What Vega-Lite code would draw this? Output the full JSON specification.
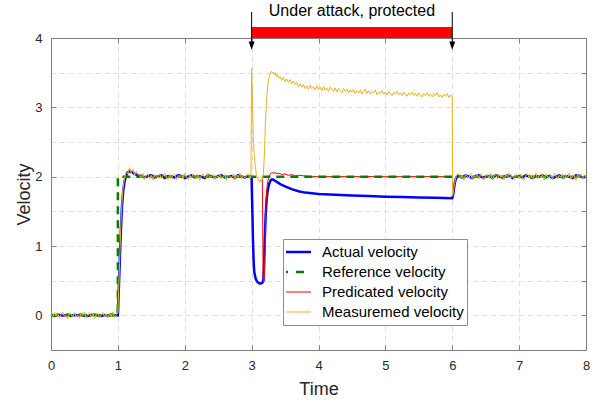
{
  "$schema": "https://vega.github.io/schema/vega-lite/v6.json",
  "width": 535,
  "height": 312,
  "autosize": {"type": "none"},
  "padding": {"left": 51, "top": 38, "right": 19, "bottom": 52},
  "background": "white",
  "config": {"font": "Liberation Sans", "view": {"stroke": null}},
  "datasets": {
    "act": [
      {"t":0,"v":0.005},{"t":0.05,"v":-0.01},{"t":0.1,"v":0.01},{"t":0.15,"v":0},{"t":0.2,"v":-0.005},{"t":0.25,"v":0.01},{"t":0.3,"v":-0.01},{"t":0.35,"v":0.005},{"t":0.4,"v":0},{"t":0.45,"v":0.01},
      {"t":0.5,"v":-0.005},{"t":0.55,"v":-0.01},{"t":0.6,"v":0.005},{"t":0.65,"v":0.01},{"t":0.7,"v":0},{"t":0.75,"v":-0.01},{"t":0.8,"v":0.005},{"t":0.85,"v":-0.005},{"t":0.9,"v":0.01},{"t":0.95,"v":0},
      {"t":1.0,"v":0},{"t":1.02,"v":0.55},{"t":1.04,"v":1.1},{"t":1.06,"v":1.55},{"t":1.08,"v":1.8},{"t":1.1,"v":1.93},{"t":1.12,"v":2.01},{"t":1.14,"v":2.05},{"t":1.17,"v":2.08},{"t":1.2,"v":2.07},{"t":1.25,"v":2.04},{"t":1.3,"v":2.02},{"t":1.35,"v":2.01},
      {"t":1.4,"v":1.99},{"t":1.45,"v":2.01},{"t":1.5,"v":2.02},{"t":1.55,"v":1.99},{"t":1.6,"v":2.0},{"t":1.65,"v":2.02},{"t":1.7,"v":1.98},{"t":1.75,"v":2.01},{"t":1.8,"v":2.0},{"t":1.85,"v":1.99},
      {"t":1.9,"v":2.02},{"t":1.95,"v":2.01},{"t":2.0,"v":1.98},{"t":2.05,"v":2.0},{"t":2.1,"v":2.02},{"t":2.15,"v":1.99},{"t":2.2,"v":2.01},{"t":2.25,"v":2.0},{"t":2.3,"v":1.98},{"t":2.35,"v":2.02},
      {"t":2.4,"v":2.0},{"t":2.45,"v":1.99},{"t":2.5,"v":2.01},{"t":2.55,"v":2.02},{"t":2.6,"v":1.99},{"t":2.65,"v":2.0},{"t":2.7,"v":2.01},{"t":2.75,"v":1.98},{"t":2.8,"v":2.02},{"t":2.85,"v":2.0},{"t":2.9,"v":1.99},{"t":2.95,"v":2.01},
      {"t":2.99,"v":2.0},{"t":3.0,"v":1.97},{"t":3.01,"v":1.55},{"t":3.02,"v":1.1},{"t":3.03,"v":0.78},{"t":3.04,"v":0.62},{"t":3.06,"v":0.53},{"t":3.08,"v":0.49},{"t":3.1,"v":0.47},{"t":3.12,"v":0.46},{"t":3.14,"v":0.46},{"t":3.16,"v":0.47},
      {"t":3.175,"v":0.5},{"t":3.185,"v":0.7},{"t":3.195,"v":1.05},{"t":3.21,"v":1.45},{"t":3.225,"v":1.68},{"t":3.24,"v":1.8},{"t":3.26,"v":1.89},{"t":3.28,"v":1.94},{"t":3.3,"v":1.96},{"t":3.32,"v":1.96},{"t":3.35,"v":1.94},
      {"t":3.4,"v":1.91},{"t":3.45,"v":1.88},{"t":3.5,"v":1.86},{"t":3.6,"v":1.82},{"t":3.7,"v":1.79},{"t":3.8,"v":1.77},{"t":3.9,"v":1.76},{"t":4.0,"v":1.75},{"t":4.25,"v":1.74},{"t":4.5,"v":1.73},{"t":4.75,"v":1.72},
      {"t":5.0,"v":1.71},{"t":5.25,"v":1.705},{"t":5.5,"v":1.7},{"t":5.75,"v":1.695},{"t":6.0,"v":1.69},{"t":6.01,"v":1.72},{"t":6.025,"v":1.82},{"t":6.04,"v":1.92},{"t":6.055,"v":1.97},{"t":6.07,"v":2.0},
      {"t":6.1,"v":2.01},{"t":6.15,"v":1.99},{"t":6.2,"v":2.02},{"t":6.25,"v":2.0},{"t":6.3,"v":1.98},{"t":6.35,"v":2.01},{"t":6.4,"v":2.02},{"t":6.45,"v":1.99},{"t":6.5,"v":2.0},{"t":6.55,"v":2.01},
      {"t":6.6,"v":1.98},{"t":6.65,"v":2.02},{"t":6.7,"v":2.0},{"t":6.75,"v":1.99},{"t":6.8,"v":2.01},{"t":6.85,"v":2.02},{"t":6.9,"v":1.98},{"t":6.95,"v":2.0},{"t":7.0,"v":2.01},{"t":7.05,"v":1.99},
      {"t":7.1,"v":2.02},{"t":7.15,"v":2.0},{"t":7.2,"v":1.98},{"t":7.25,"v":2.01},{"t":7.3,"v":2.0},{"t":7.35,"v":2.02},{"t":7.4,"v":1.99},{"t":7.45,"v":2.01},{"t":7.5,"v":1.98},{"t":7.55,"v":2.0},
      {"t":7.6,"v":2.02},{"t":7.65,"v":1.99},{"t":7.7,"v":2.01},{"t":7.75,"v":2.0},{"t":7.8,"v":1.98},{"t":7.85,"v":2.02},{"t":7.9,"v":2.01},{"t":7.95,"v":1.99},{"t":8.0,"v":2.0}
    ],
    "ref": [
      {"t":0,"v":0},{"t":1,"v":0},{"t":1,"v":2},{"t":8,"v":2}
    ],
    "pred": [
      {"t":3.16,"v":1.98},{"t":3.172,"v":0.6},{"t":3.18,"v":0.48},{"t":3.19,"v":0.52},{"t":3.2,"v":0.95},{"t":3.21,"v":1.5},{"t":3.225,"v":1.8},{"t":3.24,"v":1.93},{"t":3.26,"v":2.0},{"t":3.28,"v":2.04},
      {"t":3.3,"v":2.06},{"t":3.32,"v":2.05},{"t":3.35,"v":2.06},{"t":3.38,"v":2.04},{"t":3.41,"v":2.05},{"t":3.45,"v":2.03},{"t":3.5,"v":2.04},{"t":3.55,"v":2.02},{"t":3.6,"v":2.03},{"t":3.65,"v":2.01},
      {"t":3.7,"v":2.02},{"t":3.8,"v":2.01},{"t":3.9,"v":2.0},{"t":4.0,"v":2.0},{"t":5.0,"v":2.0},{"t":6.0,"v":2.0}
    ],
    "meas": [
      {"t":0,"v":0.02},{"t":0.025,"v":-0.03},{"t":0.05,"v":0.04},{"t":0.075,"v":-0.01},{"t":0.1,"v":0.03},{"t":0.125,"v":-0.04},{"t":0.15,"v":0.01},{"t":0.175,"v":0.05},{"t":0.2,"v":-0.02},{"t":0.225,"v":0.0},
      {"t":0.25,"v":-0.05},{"t":0.275,"v":0.03},{"t":0.3,"v":0.02},{"t":0.325,"v":-0.03},{"t":0.35,"v":0.04},{"t":0.375,"v":-0.02},{"t":0.4,"v":0.01},{"t":0.425,"v":-0.04},{"t":0.45,"v":0.03},{"t":0.475,"v":0.0},
      {"t":0.5,"v":0.05},{"t":0.525,"v":-0.03},{"t":0.55,"v":-0.01},{"t":0.575,"v":0.04},{"t":0.6,"v":-0.02},{"t":0.625,"v":0.02},{"t":0.65,"v":-0.05},{"t":0.675,"v":0.01},{"t":0.7,"v":0.03},{"t":0.725,"v":-0.03},
      {"t":0.75,"v":0.0},{"t":0.775,"v":0.04},{"t":0.8,"v":-0.02},{"t":0.825,"v":0.02},{"t":0.85,"v":-0.04},{"t":0.875,"v":0.03},{"t":0.9,"v":-0.01},{"t":0.925,"v":0.05},{"t":0.95,"v":-0.03},{"t":0.975,"v":0.01},
      {"t":1.0,"v":0.03},{"t":1.025,"v":0.75},{"t":1.05,"v":1.45},{"t":1.075,"v":1.82},{"t":1.1,"v":1.98},{"t":1.125,"v":2.08},{"t":1.15,"v":2.04},{"t":1.175,"v":2.13},{"t":1.2,"v":2.06},{"t":1.225,"v":2.11},{"t":1.25,"v":2.02},{"t":1.275,"v":2.08},{"t":1.3,"v":2.03},
      {"t":1.325,"v":2.03},{"t":1.35,"v":1.98},{"t":1.375,"v":2.05},{"t":1.4,"v":1.96},{"t":1.425,"v":2.01},{"t":1.45,"v":2.04},{"t":1.475,"v":1.97},{"t":1.5,"v":2.02},{"t":1.525,"v":1.95},{"t":1.55,"v":2.03},
      {"t":1.575,"v":2.0},{"t":1.6,"v":1.98},{"t":1.625,"v":2.04},{"t":1.65,"v":1.97},{"t":1.675,"v":2.02},{"t":1.7,"v":2.05},{"t":1.725,"v":1.99},{"t":1.75,"v":1.96},{"t":1.775,"v":2.03},{"t":1.8,"v":1.98},
      {"t":1.825,"v":2.01},{"t":1.85,"v":2.04},{"t":1.875,"v":1.95},{"t":1.9,"v":2.02},{"t":1.925,"v":1.99},{"t":1.95,"v":2.03},{"t":1.975,"v":1.97},{"t":2.0,"v":2.05},{"t":2.025,"v":2.0},{"t":2.05,"v":1.96},
      {"t":2.075,"v":2.02},{"t":2.1,"v":1.98},{"t":2.125,"v":2.04},{"t":2.15,"v":2.01},{"t":2.175,"v":1.97},{"t":2.2,"v":2.03},{"t":2.225,"v":1.95},{"t":2.25,"v":2.02},{"t":2.275,"v":2.04},{"t":2.3,"v":1.99},
      {"t":2.325,"v":1.97},{"t":2.35,"v":2.05},{"t":2.375,"v":1.98},{"t":2.4,"v":2.01},{"t":2.425,"v":2.03},{"t":2.45,"v":1.96},{"t":2.475,"v":2.02},{"t":2.5,"v":1.99},{"t":2.525,"v":2.04},{"t":2.55,"v":1.97},
      {"t":2.575,"v":2.0},{"t":2.6,"v":2.03},{"t":2.625,"v":1.95},{"t":2.65,"v":2.02},{"t":2.675,"v":2.01},{"t":2.7,"v":1.98},{"t":2.725,"v":2.04},{"t":2.75,"v":1.96},{"t":2.775,"v":2.03},{"t":2.8,"v":1.99},
      {"t":2.825,"v":2.05},{"t":2.85,"v":1.97},{"t":2.875,"v":2.02},{"t":2.9,"v":1.98},{"t":2.925,"v":2.01},{"t":2.95,"v":2.04},{"t":2.975,"v":1.97},
      {"t":2.99,"v":2.01},{"t":3.0,"v":3.56},{"t":3.008,"v":3.3},{"t":3.016,"v":2.9},{"t":3.025,"v":2.55},{"t":3.04,"v":2.3},{"t":3.055,"v":2.15},{"t":3.07,"v":2.04},{"t":3.085,"v":1.98},{"t":3.1,"v":1.95},
      {"t":3.115,"v":1.92},{"t":3.13,"v":1.96},{"t":3.145,"v":1.93},{"t":3.16,"v":1.97},{"t":3.175,"v":2.02},{"t":3.19,"v":2.3},{"t":3.205,"v":2.75},{"t":3.22,"v":3.05},{"t":3.235,"v":3.25},{"t":3.25,"v":3.38},
      {"t":3.265,"v":3.45},{"t":3.28,"v":3.5},{"t":3.295,"v":3.52},{"t":3.31,"v":3.49},{"t":3.325,"v":3.51},{"t":3.34,"v":3.47},{"t":3.355,"v":3.5},{"t":3.37,"v":3.44},{"t":3.385,"v":3.47},{"t":3.4,"v":3.43},
      {"t":3.425,"v":3.44},{"t":3.45,"v":3.39},{"t":3.475,"v":3.43},{"t":3.5,"v":3.37},{"t":3.525,"v":3.41},{"t":3.55,"v":3.36},{"t":3.575,"v":3.4},{"t":3.6,"v":3.34},{"t":3.625,"v":3.38},{"t":3.65,"v":3.33},
      {"t":3.675,"v":3.36},{"t":3.7,"v":3.3},{"t":3.725,"v":3.34},{"t":3.75,"v":3.29},{"t":3.775,"v":3.33},{"t":3.8,"v":3.27},{"t":3.825,"v":3.31},{"t":3.85,"v":3.26},{"t":3.875,"v":3.32},{"t":3.9,"v":3.27},
      {"t":3.925,"v":3.3},{"t":3.95,"v":3.25},{"t":3.975,"v":3.31},{"t":4.0,"v":3.26},{"t":4.025,"v":3.29},{"t":4.05,"v":3.24},{"t":4.075,"v":3.3},{"t":4.1,"v":3.25},{"t":4.125,"v":3.28},{"t":4.15,"v":3.23},
      {"t":4.175,"v":3.29},{"t":4.2,"v":3.26},{"t":4.225,"v":3.23},{"t":4.25,"v":3.28},{"t":4.275,"v":3.22},{"t":4.3,"v":3.27},{"t":4.325,"v":3.24},{"t":4.35,"v":3.21},{"t":4.375,"v":3.27},{"t":4.4,"v":3.23},
      {"t":4.425,"v":3.26},{"t":4.45,"v":3.21},{"t":4.475,"v":3.25},{"t":4.5,"v":3.22},{"t":4.525,"v":3.26},{"t":4.55,"v":3.2},{"t":4.575,"v":3.24},{"t":4.6,"v":3.21},{"t":4.625,"v":3.25},{"t":4.65,"v":3.19},
      {"t":4.675,"v":3.23},{"t":4.7,"v":3.26},{"t":4.725,"v":3.2},{"t":4.75,"v":3.24},{"t":4.775,"v":3.19},{"t":4.8,"v":3.23},{"t":4.825,"v":3.21},{"t":4.85,"v":3.25},{"t":4.875,"v":3.18},{"t":4.9,"v":3.22},
      {"t":4.925,"v":3.2},{"t":4.95,"v":3.24},{"t":4.975,"v":3.19},{"t":5.0,"v":3.22},{"t":5.025,"v":3.18},{"t":5.05,"v":3.23},{"t":5.075,"v":3.2},{"t":5.1,"v":3.17},{"t":5.125,"v":3.22},{"t":5.15,"v":3.19},
      {"t":5.175,"v":3.23},{"t":5.2,"v":3.18},{"t":5.225,"v":3.21},{"t":5.25,"v":3.17},{"t":5.275,"v":3.22},{"t":5.3,"v":3.19},{"t":5.325,"v":3.16},{"t":5.35,"v":3.21},{"t":5.375,"v":3.18},{"t":5.4,"v":3.22},
      {"t":5.425,"v":3.17},{"t":5.45,"v":3.2},{"t":5.475,"v":3.16},{"t":5.5,"v":3.21},{"t":5.525,"v":3.18},{"t":5.55,"v":3.15},{"t":5.575,"v":3.2},{"t":5.6,"v":3.17},{"t":5.625,"v":3.21},{"t":5.65,"v":3.16},
      {"t":5.675,"v":3.19},{"t":5.7,"v":3.15},{"t":5.725,"v":3.2},{"t":5.75,"v":3.17},{"t":5.775,"v":3.21},{"t":5.8,"v":3.15},{"t":5.825,"v":3.18},{"t":5.85,"v":3.14},{"t":5.875,"v":3.19},{"t":5.9,"v":3.16},
      {"t":5.925,"v":3.2},{"t":5.95,"v":3.14},{"t":5.975,"v":3.18},{"t":6.0,"v":3.15},
      {"t":6.005,"v":1.72},{"t":6.02,"v":1.8},{"t":6.035,"v":1.9},{"t":6.05,"v":1.97},{"t":6.065,"v":2.03},
      {"t":6.1,"v":2.04},{"t":6.125,"v":1.97},{"t":6.15,"v":2.02},{"t":6.175,"v":1.95},{"t":6.2,"v":2.03},{"t":6.225,"v":2.01},{"t":6.25,"v":1.98},{"t":6.275,"v":2.05},{"t":6.3,"v":1.96},{"t":6.325,"v":2.02},
      {"t":6.35,"v":1.99},{"t":6.375,"v":2.03},{"t":6.4,"v":1.97},{"t":6.425,"v":2.04},{"t":6.45,"v":2.0},{"t":6.475,"v":1.95},{"t":6.5,"v":2.02},{"t":6.525,"v":2.03},{"t":6.55,"v":1.98},{"t":6.575,"v":2.05},
      {"t":6.6,"v":1.96},{"t":6.625,"v":2.01},{"t":6.65,"v":2.03},{"t":6.675,"v":1.97},{"t":6.7,"v":2.04},{"t":6.725,"v":1.99},{"t":6.75,"v":2.02},{"t":6.775,"v":1.95},{"t":6.8,"v":2.03},{"t":6.825,"v":2.0},
      {"t":6.85,"v":2.05},{"t":6.875,"v":1.98},{"t":6.9,"v":2.01},{"t":6.925,"v":1.96},{"t":6.95,"v":2.03},{"t":6.975,"v":2.02},{"t":7.0,"v":1.97},{"t":7.025,"v":2.04},{"t":7.05,"v":1.99},{"t":7.075,"v":1.95},
      {"t":7.1,"v":2.02},{"t":7.125,"v":2.04},{"t":7.15,"v":1.98},{"t":7.175,"v":2.03},{"t":7.2,"v":1.96},{"t":7.225,"v":2.01},{"t":7.25,"v":2.05},{"t":7.275,"v":1.97},{"t":7.3,"v":2.02},{"t":7.325,"v":1.99},
      {"t":7.35,"v":2.03},{"t":7.375,"v":1.95},{"t":7.4,"v":2.04},{"t":7.425,"v":2.0},{"t":7.45,"v":1.98},{"t":7.475,"v":2.03},{"t":7.5,"v":1.96},{"t":7.525,"v":2.05},{"t":7.55,"v":2.01},{"t":7.575,"v":1.97},
      {"t":7.6,"v":2.02},{"t":7.625,"v":1.99},{"t":7.65,"v":2.04},{"t":7.675,"v":1.96},{"t":7.7,"v":2.03},{"t":7.725,"v":1.98},{"t":7.75,"v":2.05},{"t":7.775,"v":1.97},{"t":7.8,"v":2.01},{"t":7.825,"v":2.02},
      {"t":7.85,"v":1.95},{"t":7.875,"v":2.03},{"t":7.9,"v":1.99},{"t":7.925,"v":2.04},{"t":7.95,"v":1.97},{"t":7.975,"v":2.02},{"t":8.0,"v":2.0}
    ],
    "bar": [{"t":3,"t2":6,"v":4.0,"v2":4.16}],
    "arr": [{"t":3,"v":3.89,"v2":4.377},{"t":6,"v":3.89,"v2":4.377}],
    "lab": [{"t":4.5,"v":4.316,"txt":"Under attack, protected"}]
  },
  "layer": [
    {
      "layer": [
        {
          "data": {"name": "act"},
          "mark": {"type": "line", "strokeWidth": 2.5, "clip": false},
          "encoding": {
            "x": {"field": "t", "type": "quantitative", "scale": {"domain": [0, 8], "nice": false, "zero": false},
              "axis": {"title": "Time", "values": [0,1,2,3,4,5,6,7,8], "format": "d", "grid": true, "gridDash": [5,4], "gridColor": "#dedede", "domainColor": "#7f7f7f", "tickColor": "#7f7f7f", "tickSize": -5, "labelPadding": 14, "labelFontSize": 13, "labelColor": "#262626", "labelFlush": false, "labelOverlap": false, "titleFontSize": 18, "titleFontWeight": "normal", "titleColor": "#262626", "titlePadding": 8}},
            "y": {"field": "v", "type": "quantitative", "scale": {"domain": [-0.5, 4], "nice": false, "zero": false},
              "axis": {"title": "Velocity", "values": [0,1,2,3,4], "format": "d", "grid": false, "domainColor": "#7f7f7f", "tickColor": "#7f7f7f", "tickSize": -5, "labelPadding": 14, "labelFontSize": 13, "labelColor": "#262626", "labelFlush": false, "labelOverlap": false, "titleFontSize": 18, "titleFontWeight": "normal", "titleColor": "#262626", "titlePadding": 1}},
            "color": {"datum": "Actual velocity", "type": "nominal",
              "scale": {"domain": ["Actual velocity", "Reference velocity", "Predicated velocity", "Measuremed velocity"], "range": ["#0000ff", "#008000", "#ff0000", "#edb120"]},
              "legend": {"orient": "none", "legendX": 232, "legendY": 201, "title": null, "symbolType": "stroke", "symbolSize": 961, "clipHeight": 20, "rowPadding": 0, "padding": 3, "symbolOffset": 2, "labelOffset": 19, "labelFontSize": 15, "labelColor": "#000000", "fillColor": "#ffffff", "strokeColor": "#8c8c8c",
                "encode": {"symbols": {"update": {"strokeDash": {"signal": "datum.value === 'Reference velocity' ? [8, 8] : [1, 0]"}, "strokeWidth": {"signal": "(datum.value === 'Actual velocity' || datum.value === 'Reference velocity') ? 2.5 : 1"}}}}}}
          }
        },
        {
          "data": {"name": "pred"},
          "mark": {"type": "line", "strokeWidth": 1, "clip": false},
          "encoding": {
            "x": {"field": "t", "type": "quantitative"},
            "y": {"field": "v", "type": "quantitative"},
            "color": {"datum": "Predicated velocity", "type": "nominal"}
          }
        },
        {
          "data": {"name": "ref"},
          "mark": {"type": "line", "strokeWidth": 2.5, "strokeDash": [8, 6], "clip": false},
          "encoding": {
            "x": {"field": "t", "type": "quantitative"},
            "y": {"field": "v", "type": "quantitative"},
            "color": {"datum": "Reference velocity", "type": "nominal"}
          }
        },
        {
          "data": {"name": "meas"},
          "mark": {"type": "line", "strokeWidth": 1, "clip": false},
          "encoding": {
            "x": {"field": "t", "type": "quantitative"},
            "y": {"field": "v", "type": "quantitative"},
            "color": {"datum": "Measuremed velocity", "type": "nominal"}
          }
        },
        {
          "data": {"name": "bar"},
          "mark": {"type": "rect", "color": "#ff0000"},
          "encoding": {
            "x": {"field": "t", "type": "quantitative"},
            "x2": {"field": "t2"},
            "y": {"field": "v", "type": "quantitative"},
            "y2": {"field": "v2"}
          }
        },
        {
          "data": {"name": "arr"},
          "mark": {"type": "rule", "color": "#000000", "strokeWidth": 1},
          "encoding": {
            "x": {"field": "t", "type": "quantitative"},
            "y": {"field": "v", "type": "quantitative"},
            "y2": {"field": "v2"}
          }
        },
        {
          "data": {"name": "arr"},
          "mark": {"type": "point", "shape": "M0,1L-0.7,-1L0.7,-1Z", "filled": true, "color": "#000000", "opacity": 1, "size": 72},
          "encoding": {
            "x": {"field": "t", "type": "quantitative"},
            "y": {"field": "v", "type": "quantitative"}
          }
        },
        {
          "data": {"name": "lab"},
          "mark": {"type": "text", "fontSize": 16, "align": "center", "baseline": "alphabetic", "color": "#000000"},
          "encoding": {
            "x": {"field": "t", "type": "quantitative"},
            "y": {"field": "v", "type": "quantitative"},
            "text": {"field": "txt"}
          }
        }
      ]
    },
    {
      "data": {"name": "ref"},
      "mark": {"type": "point", "opacity": 0},
      "encoding": {
        "x": {"field": "t", "type": "quantitative", "axis": {"orient": "top", "labels": false, "title": null, "grid": false, "values": [0,1,2,3,4,5,6,7,8], "domainColor": "#7f7f7f", "tickColor": "#7f7f7f", "tickSize": -5}},
        "y": {"field": "v", "type": "quantitative", "axis": {"orient": "right", "labels": false, "title": null, "grid": true, "gridDash": [5,4], "gridColor": "#dedede", "values": [-0.5,0,0.5,1,1.5,2,2.5,3,3.5,4], "domainColor": "#7f7f7f", "tickColor": "#7f7f7f", "tickSize": -5}}
      }
    }
  ],
  "resolve": {"axis": {"x": "independent", "y": "independent"}}
}
